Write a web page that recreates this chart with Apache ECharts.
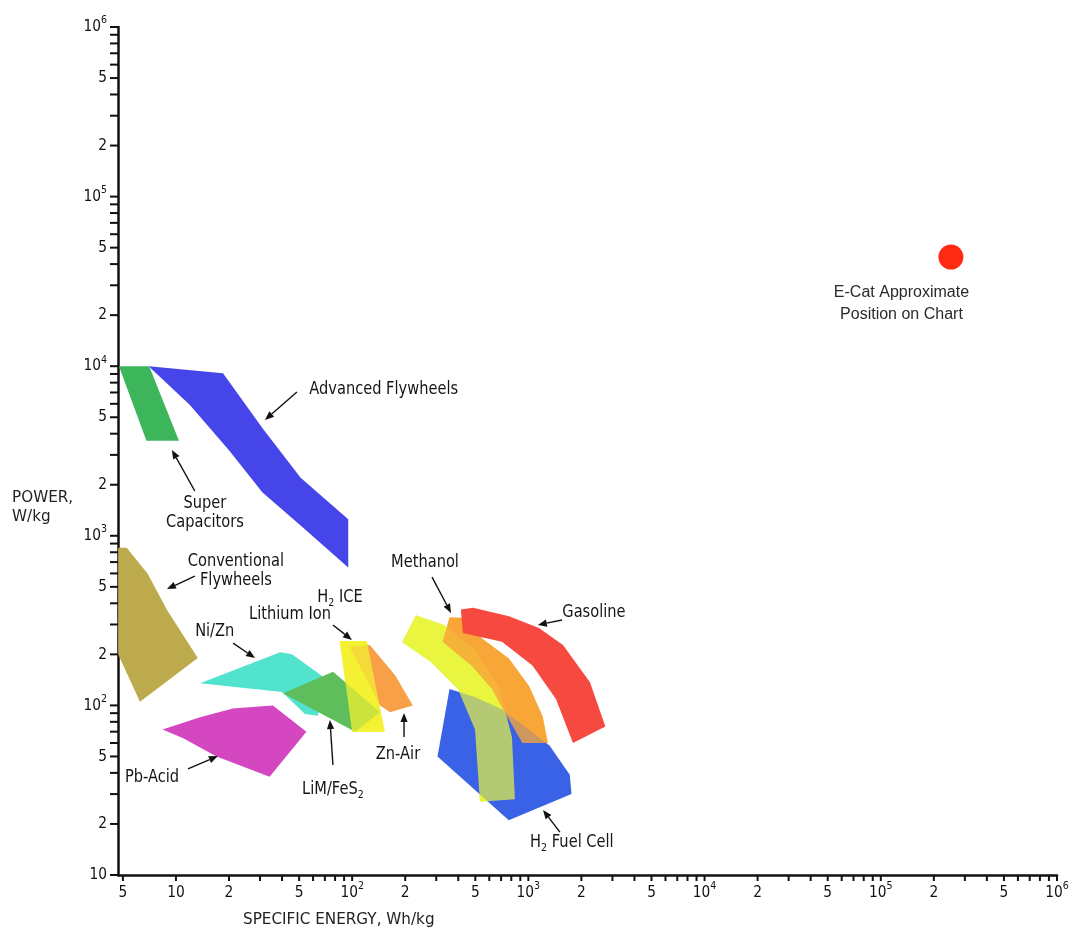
<!DOCTYPE html>
<html><head><meta charset="utf-8">
<script src="https://cdn.jsdelivr.net/npm/echarts@6/dist/echarts.min.js"></script>
<style>html,body{margin:0;padding:0;background:#fff}#c{width:1073px;height:934px}</style>
</head><body><div id="c"></div>
<script>
// ---------------- axis ranges ----------------
const X_MIN = 4.69, X_MAX = 1e6, Y_MIN = 10, Y_MAX = 1e6;

// ---------------- region vertices [specific energy Wh/kg, power W/kg] ----------------
const superCapacitors = [[4.75,10000],[7.05,10000],[10.4,3640],[6.8,3640]];
const advancedFlywheels = [[7,10000],[18.5,9100],[31,4300],[51,2200],[95,1250],[95,650],[51,1150],[31,1800],[20,3200],[12,5900]];
const conventionalFlywheels = [[4.7,850],[5.25,850],[6.9,600],[8.9,365],[13.3,190],[6.25,105],[4.7,200]];
const pbAcid = [[8.4,72],[13.7,85],[21,96],[31,99],[35.5,100],[55,70],[34,38],[17,50],[11,64]];
const niZn = [[13.7,135],[39,206],[45.5,200],[70,145],[64,87],[54,89],[40,120]];
const limFeS2 = [[40.5,118],[78,158],[144,91],[104,70]];
const lithiumIon = [[85,240],[121,240],[153,70],[100,70]];
const znAir = [[97,221],[126,227],[175,151],[221,100],[164,91],[144,100]];
const h2FuelCell = [[357,125],[498,112],[708,95],[1318,58],[1718,39],[1757,30],[774,21],[305,50]];
const h2Ice = [[230,340],[332,298],[498,212],[690,123],[807,65],[839,28],[531,27],[498,72],[398,125],[280,180],[192,236]];
const methanol = [[357,330],[465,328],[543,249],[774,189],[1008,130],[1205,86],[1289,60],[925,60],[740,90],[621,125],[475,172],[326,237]];
const gasoline = [[414,368],[485,376],[776,335],[1148,286],[1572,227],[2237,137],[2735,75],[1791,60],[1434,109],[1055,172],[708,237],[425,267]];
const eCat = [[250000,44000]];

// ---------------- annotations (data coords) ----------------
const labelTexts = ['Advanced Flywheels','Super\nCapacitors','Conventional\nFlywheels','Ni/Zn','Lithium Ion','H{sub|2} ICE','Methanol','Gasoline','Zn-Air','LiM/FeS{sub|2}','Pb-Acid','H{sub|2} Fuel Cell'];
const labelAnchors = [[151,7240],[14.6,1360],[21.9,616],[16.6,271],[44.4,341],[85.3,430],[259,692],[2355,351],[182,51],[77.8,31.7],[7.31,37.3],[1766,15.5]];
const arrowSegments = [
  [48.6,7047,32.0,4819],
  [12.8,1837,9.49,3206],
  [12.8,579,8.89,485],
  [21.1,233,28.1,190],
  [77.8,298,99.7,243],
  [284,571,364,351],
  [1552,319,1132,298],
  [197,65.2,197,90.2],
  [77.8,44.5,74.8,82.0],
  [11.7,42.2,17.3,50.3],
  [1510,17.9,1211,24.2]
];
const eCatText = 'E-Cat Approximate\nPosition on Chart';
const eCatTextAnchor = [131000, 23300];

// ---------------- tick values & labels ----------------
const xMajorTicks = [5,10,20,50,100,200,500,1e3,2e3,5e3,1e4,2e4,5e4,1e5,2e5,5e5,1e6];
const xMajorLabels = ['5','10','2','5','10{s|2}','2','5','10{s|3}','2','5','10{s|4}','2','5','10{s|5}','2','5','10{s|6}'];
const yMajorTicks = [10,20,50,100,200,500,1e3,2e3,5e3,1e4,2e4,5e4,1e5,2e5,5e5,1e6];
const yMajorLabels = ['10','2','5','10{s|2}','2','5','10{s|3}','2','5','10{s|4}','2','5','10{s|5}','2','5','10{s|6}'];
const minorMultipliers = [3,4,6,7,8,9];
const xDecades = [10,100,1e3,1e4,1e5];
const yDecades = [10,100,1e3,1e4,1e5];

// ---------------- styles / layering ----------------
const FONT = 'DejaVu Sans';
// overlapping translucent regions are painted as an opaque base plus a translucent top coat
const layers = [
  {name:'Conventional Flywheels', pts:conventionalFlywheels, color:'#bcaa4c'},
  {name:'Pb-Acid', pts:pbAcid, color:'#d546c1'},
  {name:'Advanced Flywheels', pts:advancedFlywheels, color:'#4545ea'},
  {name:'Super Capacitors', pts:superCapacitors, color:'#3db55b'},
  {name:'Ni/Zn', pts:niZn, color:'#52e3cf'},
  {name:'Lithium Ion', pts:lithiumIon, color:'#f4f132'},
  {name:'Zn-Air', pts:znAir, color:'#f8a048'},
  {name:'LiM/FeS2', pts:limFeS2, color:'#5fbe5c', blend:'multiply'},
  {name:'Lithium Ion', pts:lithiumIon, color:'#f4f132', opacity:0.72},
  {name:'H2 ICE', pts:h2Ice, color:'#e9f540'},
  {name:'Methanol', pts:methanol, color:'#f8a63a'},
  {name:'H2 Fuel Cell', pts:h2FuelCell, color:'#3a62e6'},
  {name:'H2 ICE', pts:h2Ice, color:'#e9f540', opacity:0.7},
  {name:'Methanol', pts:methanol, color:'#f8a63a', opacity:0.78},
  {name:'Gasoline', pts:gasoline, color:'#f6493f', blend:'multiply'}
];

const xMinorTicks = [], yMinorTicks = [];
xDecades.forEach(d => minorMultipliers.forEach(m => xMinorTicks.push(d*m)));
yDecades.forEach(d => minorMultipliers.forEach(m => yMinorTicks.push(d*m)));

const chart = echarts.init(document.getElementById('c'));

const regionSeries = layers.map((r, i) => ({
  type:'custom', name:r.name, coordinateSystem:'cartesian2d', silent:true, z:2, zlevel:0,
  data:[r.pts[0]],
  renderItem:(params, api) => {
    const style = {fill:r.color, opacity:r.opacity == null ? 1 : r.opacity};
    if (r.blend) style.blend = r.blend;
    return {type:'polygon', shape:{points:r.pts.map(p => api.coord(p))}, style};
  }
}));

const supRich = {s:{fontSize:11, fontFamily:FONT, fill:'#111', padding:[0,0,13,0]}};

const tickSeries = {
  type:'custom', silent:true, clip:false, z:5,
  data:[
    ...xMajorTicks.map(v => [v, Y_MIN, 0]),
    ...xMinorTicks.map(v => [v, Y_MIN, 0]),
    ...yMajorTicks.map(v => [X_MIN, v, 1]),
    ...yMinorTicks.map(v => [X_MIN, v, 1])
  ],
  renderItem:(params, api) => {
    const p = api.coord([api.value(0), api.value(1)]);
    const isY = api.value(2) === 1;
    return isY
      ? {type:'line', shape:{x1:p[0]-8, y1:p[1], x2:p[0], y2:p[1]}, style:{stroke:'#111', lineWidth:2}}
      : {type:'line', shape:{x1:p[0], y1:p[1], x2:p[0], y2:p[1]+6}, style:{stroke:'#111', lineWidth:2}};
  }
};

const tickLabelSeries = {
  type:'custom', silent:true, clip:false, z:5,
  data:[
    ...xMajorTicks.map((v,i) => [v, Y_MIN, 0, i]),
    ...yMajorTicks.map((v,i) => [X_MIN, v, 1, i])
  ],
  renderItem:(params, api) => {
    const p = api.coord([api.value(0), api.value(1)]);
    const isY = api.value(2) === 1;
    const idx = api.value(3);
    const text = isY ? yMajorLabels[idx] : xMajorLabels[idx];
    return {
      type:'text', x: isY ? p[0]-11 : p[0], y: isY ? p[1] : p[1]+18, scaleX:0.86,
      style:{text, fontSize:16, fontFamily:FONT, fill:'#111',
        align: isY ? 'right' : 'center', verticalAlign:'middle', rich:supRich}
    };
  }
};

const subRich = {sub:{fontSize:11, fontFamily:FONT, fill:'#151515', padding:[11,0,0,0]}};

const labelSeries = {
  type:'custom', silent:true, clip:false, z:6,
  data: labelAnchors.map((a,i) => [a[0], a[1], i]),
  renderItem:(params, api) => {
    const p = api.coord([api.value(0), api.value(1)]);
    const i = api.value(2);
    return {
      type:'text', x:p[0], y:p[1], scaleX:0.86,
      style:{text:labelTexts[i], fontSize:17, fontFamily:FONT, fill:'#151515',
        align:'center', verticalAlign:'middle', lineHeight:19, rich:subRich}
    };
  }
};

const arrowSeries = {
  type:'custom', silent:true, clip:false, z:6,
  dimensions:['x1','y1','x2','y2'],
  encode:{x:[0,2], y:[1,3]},
  data: arrowSegments,
  renderItem:(params, api) => {
    const a = api.coord([api.value(0), api.value(1)]);
    const b = api.coord([api.value(2), api.value(3)]);
    const dx = b[0]-a[0], dy = b[1]-a[1], L = Math.hypot(dx, dy) || 1;
    const ux = dx/L, uy = dy/L, hl = 9, hw = 3.6;
    const bx = b[0]-ux*hl, by = b[1]-uy*hl;
    return {type:'group', children:[
      {type:'line', shape:{x1:a[0], y1:a[1], x2:bx, y2:by}, style:{stroke:'#111', lineWidth:1.4}},
      {type:'polygon', shape:{points:[[b[0],b[1]],[bx-uy*hw, by+ux*hw],[bx+uy*hw, by-ux*hw]]}, style:{fill:'#111'}}
    ]};
  }
};

const eCatLabelSeries = {
  type:'custom', silent:true, clip:false, z:6,
  data:[eCatTextAnchor],
  renderItem:(params, api) => {
    const p = api.coord([api.value(0), api.value(1)]);
    return {type:'text', x:p[0], y:p[1],
      style:{text:eCatText, fontSize:16, fontFamily:'Liberation Sans', fill:'#2a2a2a',
        align:'center', verticalAlign:'middle', lineHeight:22}};
  }
};

chart.setOption({
  animation:false,
  backgroundColor:'#ffffff',
  grid:{left:118, right:16, top:27, bottom:59, containLabel:false},
  xAxis:{type:'log', logBase:10, min:X_MIN, max:X_MAX,
    axisLine:{show:true, onZero:false, lineStyle:{color:'#111', width:2.5}},
    axisTick:{show:false}, axisLabel:{show:false}, splitLine:{show:false}, minorTick:{show:false}},
  yAxis:{type:'log', logBase:10, min:Y_MIN, max:Y_MAX,
    axisLine:{show:true, onZero:false, lineStyle:{color:'#111', width:2.5}},
    axisTick:{show:false}, axisLabel:{show:false}, splitLine:{show:false}, minorTick:{show:false}},
  graphic:[
    {type:'text', x:12, y:488, scaleX:0.95,
      style:{text:'POWER,\nW/kg', fontSize:16, fontFamily:FONT, fill:'#222', lineHeight:19, verticalAlign:'top'}},
    {type:'text', x:243, y:912, scaleX:0.95,
      style:{text:'SPECIFIC ENERGY, Wh/kg', fontSize:16, fontFamily:FONT, fill:'#222', verticalAlign:'top'}}
  ],
  series:[
    ...regionSeries,
    {type:'scatter', name:'E-Cat', data:eCat, symbol:'circle', symbolSize:25,
      itemStyle:{color:'#ff2a12', opacity:1}, silent:true, z:4},
    tickSeries, tickLabelSeries, labelSeries, arrowSeries, eCatLabelSeries
  ]
});
</script>
</body></html>
